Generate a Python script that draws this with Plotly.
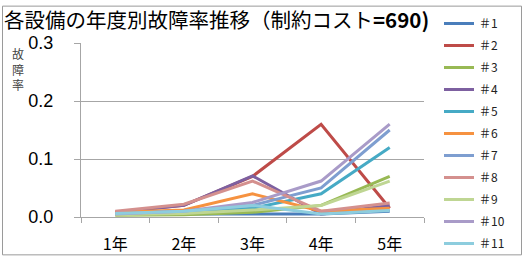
import plotly.graph_objects as go

years = ["1年", "2年", "3年", "4年", "5年"]
names = ["＃1", "＃2", "＃3", "＃4", "＃5", "＃6", "＃7", "＃8", "＃9", "＃10", "＃11"]
s1 = [0.005, 0.005, 0.005, 0.005, 0.010]
s2 = [0.008, 0.020, 0.070, 0.160, 0.015]
s3 = [0.003, 0.004, 0.008, 0.020, 0.070]
s4 = [0.008, 0.020, 0.071, 0.005, 0.020]
s5 = [0.005, 0.008, 0.015, 0.040, 0.120]
s6 = [0.008, 0.012, 0.040, 0.010, 0.015]
s7 = [0.005, 0.010, 0.020, 0.050, 0.150]
s8 = [0.010, 0.022, 0.062, 0.010, 0.024]
s9 = [0.004, 0.006, 0.012, 0.020, 0.062]
s10 = [0.005, 0.010, 0.025, 0.062, 0.160]
s11 = [0.006, 0.010, 0.020, 0.005, 0.011]
series = [s1, s2, s3, s4, s5, s6, s7, s8, s9, s10, s11]
colors = ["#4A7EBB", "#BE4B48", "#98B954", "#7D60A0", "#46AAC5", "#F69240",
          "#7E9ED0", "#D4908E", "#BFD693", "#A99BC8", "#8DCDDE"]

# plot area pixel geometry
L, R, T, B = 81, 424, 40, 217
W, H = R - L, B - T
def px(x):
    return (x - L) / W
def py(y):
    return (B - y) / H

fig = go.Figure()
for i, (n, s) in enumerate(zip(names, series)):
    fig.add_trace(go.Scatter(x=years, y=s, name=n, mode="lines",
                             line=dict(color=colors[i], width=3),
                             legendgroup=f"g{i}"))

font_jp = "Noto Sans CJK JP, Noto Sans, sans-serif"
fig.update_layout(
    width=525, height=258,
    margin=dict(l=L, r=525 - R, t=T, b=258 - B),
    paper_bgcolor="white", plot_bgcolor="white",
    font=dict(family=font_jp, color="black"),
    showlegend=True,
    legend=dict(x=px(439), y=py(9), xanchor="left", yanchor="top",
                font=dict(size=12, family=font_jp, color="#222"),
                tracegroupgap=3, bgcolor="rgba(0,0,0,0)", maxheight=258),
    xaxis=dict(type="category", range=[-0.5, 4.5], tickson="boundaries", ticks="outside", ticklen=5,
               tickcolor="#A6A6A6", showline=True, linecolor="#A6A6A6", linewidth=1,
               showgrid=False, tickfont=dict(size=16, family=font_jp, color="black"),
               ticklabelstandoff=13, automargin=False, fixedrange=True),
    yaxis=dict(range=[0, 0.3], tickvals=[0, 0.1, 0.2, 0.3], ticktext=["0.0", "0.1", "0.2", "0.3"],
               ticks="outside", ticklen=6, tickcolor="#A6A6A6", showline=True,
               linecolor="#A6A6A6", linewidth=1, showgrid=True, gridcolor="#A6A6A6",
               gridwidth=1, zeroline=False,
               tickfont=dict(size=18, family="Liberation Sans, Arial, sans-serif", color="black"),
               ticklabelstandoff=17, automargin=False, fixedrange=True),
)

fig.add_annotation(text="各設備の年度別故障率推移（制約コスト<b>=690)</b>", xref="paper", yref="paper",
                   x=px(2), y=py(15.5), xanchor="left", yanchor="middle", showarrow=False,
                   font=dict(size=20.5, family=font_jp, color="black"))
fig.add_annotation(text="故<br>障<br>率", xref="paper", yref="paper",
                   x=px(18), y=py(66), xanchor="center", yanchor="middle", showarrow=False,
                   font=dict(size=12, family=font_jp, color="#444"))
fig.add_shape(type="rect", xref="paper", yref="paper",
              x0=px(2.5), x1=px(521.5), y0=py(2.5), y1=py(255.5),
              line=dict(color="#9A9A9A", width=1), fillcolor="rgba(0,0,0,0)", layer="below")

fig.write_html("out.html")
